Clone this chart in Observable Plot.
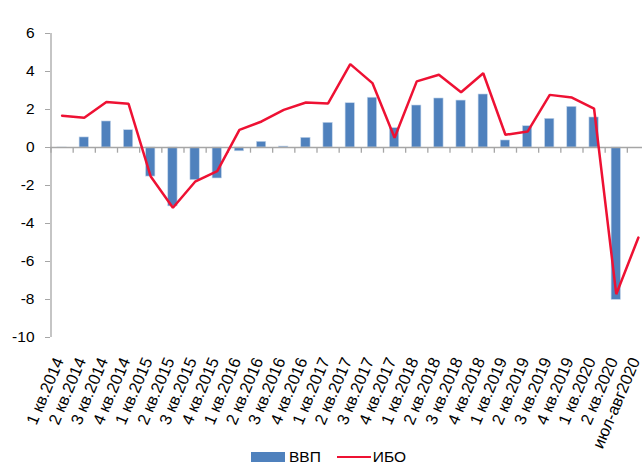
<!DOCTYPE html>
<html>
<head>
<meta charset="utf-8">
<script src="https://cdn.jsdelivr.net/npm/d3@7"></script>
<script src="https://cdn.jsdelivr.net/npm/@observablehq/plot@0.6"></script>
<style>
  html, body { margin: 0; padding: 0; background: #fff; overflow: hidden; }
  #wrap { position: relative; width: 642px; height: 464px; font-family: "Liberation Sans", Arial, sans-serif; }
  #legend { position: absolute; left: 251px; top: 448px; display: flex; align-items: center; font-size: 15.5px; color: #000; line-height: 18px; }
  .sw-bar { width: 34px; height: 10px; background: #4f81bd; margin-right: 4px; }
  .sw-line { width: 34px; height: 2.5px; background: #ee1133; margin-left: 16px; margin-right: 2px; }
</style>
</head>
<body>
<div id="wrap">
  <div id="chart"></div>
  <div id="legend"><div class="sw-bar"></div><span>ВВП</span><div class="sw-line"></div><span>ИБО</span></div>
</div>
<script>
const categories = [
  "1 кв.2014","2 кв.2014","3 кв.2014","4 кв.2014",
  "1 кв.2015","2 кв.2015","3 кв.2015","4 кв.2015",
  "1 кв.2016","2 кв.2016","3 кв.2016","4 кв.2016",
  "1 кв.2017","2 кв.2017","3 кв.2017","4 кв.2017",
  "1 кв.2018","2 кв.2018","3 кв.2018","4 кв.2018",
  "1 кв.2019","2 кв.2019","3 кв.2019","4 кв.2019",
  "1 кв.2020","2 кв.2020","июл-авг2020"
];
const gdp = [
  -0.02, 0.53, 1.37, 0.91,
  -1.53, -3.1, -1.72, -1.63,
  -0.2, 0.3, 0.05, 0.51,
  1.3, 2.33, 2.62, 1.02,
  2.21, 2.58, 2.47, 2.79,
  0.37, 1.12, 1.51, 2.14,
  1.58, -8.02, null
];
const ibo = [
  1.67, 1.56, 2.4, 2.3,
  -1.53, -3.17, -1.8, -1.24,
  0.93, 1.37, 1.98, 2.37,
  2.32, 4.39, 3.39, 0.51,
  3.48, 3.83, 2.91, 3.91,
  0.67, 0.84, 2.77, 2.63,
  2.04, -7.72, -4.74
];
const yTicks = [6, 4, 2, 0, -2, -4, -6, -8, -10];

const data = categories.map((c, i) => ({c, gdp: gdp[i], ibo: ibo[i]}));

const xRange = [50.5, 649];
const step = (xRange[1] - xRange[0]) / categories.length;
const gray = "#a6a6a6";

const chart = Plot.plot({
  width: 642,
  height: 464,
  marginTop: 33,
  marginBottom: 127,
  marginLeft: 50,
  marginRight: 0,
  style: {fontFamily: "'Liberation Sans', Arial, sans-serif", color: "#000", background: "#fff"},
  x: {domain: categories, range: xRange, paddingInner: 0.58, paddingOuter: 0.29, align: 0.5, round: false, axis: null},
  y: {domain: [-10, 6], axis: null},
  marks: [
    Plot.barY(data.filter(d => d.gdp != null), {x: "c", y: "gdp", fill: "#4f81bd", stroke: "#c5d6ea", strokeWidth: 0.6}),
    Plot.ruleY([0], {stroke: gray, strokeWidth: 1.3}),
    Plot.ruleX(categories, {x: d => d, y1: 0, y2: -0.3, dx: -step / 2, stroke: gray, strokeWidth: 1.3}),
    Plot.ruleX([categories[0]], {x: d => d, y1: -10, y2: 6, dx: -step / 2, stroke: gray, strokeWidth: 1.3}),
    Plot.axisY({ticks: yTicks, tickSize: 5, tickPadding: 11, fontSize: 15.5, stroke: gray, fill: "#000", tickFormat: d => String(d)}),
    Plot.line(data, {x: "c", y: "ibo", stroke: "#ee1133", strokeWidth: 2.5, strokeLinejoin: "miter"}),
    Plot.text(categories, {x: d => d, y: -10, text: d => d, rotate: -67, textAnchor: "end", lineAnchor: "bottom", dx: 2, dy: 23, fontSize: 16.5, fill: "#000"})
  ]
});
document.getElementById("chart").appendChild(chart);
</script>
</body>
</html>
